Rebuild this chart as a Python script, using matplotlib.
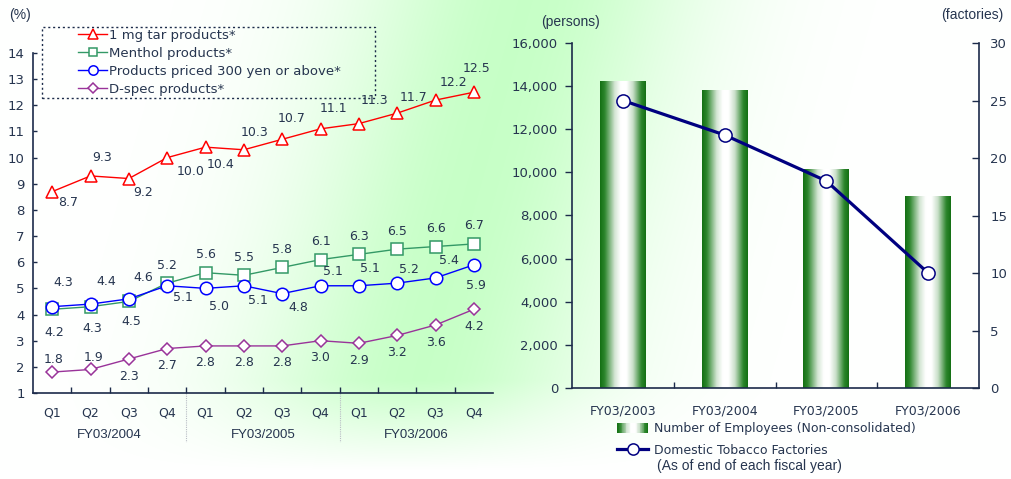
import matplotlib
matplotlib.use("Agg")
import matplotlib.pyplot as plt
import numpy as np
from matplotlib.colors import LinearSegmentedColormap
from matplotlib.legend_handler import HandlerBase
from matplotlib.patches import Rectangle
from matplotlib.ticker import StrMethodFormatter

# quarterly share of each product segment (%)
quarters = ["Q1", "Q2", "Q3", "Q4"] * 3
fiscal_years = ["FY03/2004", "FY03/2005", "FY03/2006"]
tar_1mg = [8.7, 9.3, 9.2, 10.0, 10.4, 10.3, 10.7, 11.1, 11.3, 11.7, 12.2, 12.5]
menthol = [4.2, 4.3, 4.5, 5.2, 5.6, 5.5, 5.8, 6.1, 6.3, 6.5, 6.6, 6.7]
price_300 = [4.3, 4.4, 4.6, 5.1, 5.0, 5.1, 4.8, 5.1, 5.1, 5.2, 5.4, 5.9]
d_spec = [1.8, 1.9, 2.3, 2.7, 2.8, 2.8, 2.8, 3.0, 2.9, 3.2, 3.6, 4.2]
series_names = ["1 mg tar products*", "Menthol products*",
                "Products priced 300 yen or above*", "D-spec products*"]

# employees and factories by fiscal year
years = ["FY03/2003", "FY03/2004", "FY03/2005", "FY03/2006"]
employees = [14200, 13800, 10150, 8900]
factories = [25, 22, 18, 10]

# label offsets in pixels (right, up) for each value label
tar_offsets = [(16, -11), (12, 18), (14, -14), (23, -14), (15, -17), (11, 17),
               (9, 21), (13, 20), (16, 23), (16, 16), (18, 18), (3, 24)]
menthol_offsets = [(2, -23), (2, -22), (2, -20)] + [(0, 18)] * 9
price_offsets = [(11, 24), (16, 23), (14, 21), (16, -12), (13, -18), (14, -15),
                 (16, -14), (12, 14), (11, 17), (12, 14), (13, 17), (2, -21)]
dspec_offsets = [(1, 13), (3, 12)] + [(0, -17)] * 10

TEXT = "#26354f"
AXIS = "#1c2b4a"
W, H = 1011, 479

fig = plt.figure(figsize=(W / 100, H / 100), dpi=100)

# soft green glow behind both panels
bg = fig.add_axes([0, 0, 1, 1], zorder=-10)
yy, xx = np.mgrid[0:H, 0:W].astype(float)
centre = 525 - 0.28 * yy
glow = np.exp(-((xx - centre) / 175) ** 2) * np.clip((470 - yy) / 90, 0, 1)
green = np.array([0.78, 1.0, 0.78])
bg.imshow(1 - glow[..., None] * (1 - green), extent=[0, 1, 0, 1], aspect="auto",
          origin="upper")
bg.axis("off")

# ---------------- left: product share line chart ----------------
axl = fig.add_axes([33 / W, 1 - 393 / H, 460 / W, 340 / H])
axl.patch.set_alpha(0)
x = np.arange(len(quarters))
line_specs = [
    (tar_1mg, series_names[0], "#ff0000", "^", 9, tar_offsets),
    (menthol, series_names[1], "#339966", "s", 8, menthol_offsets),
    (price_300, series_names[2], "#0000ff", "o", 9, price_offsets),
    (d_spec, series_names[3], "#993399", "D", 6.5, dspec_offsets),
]
handles = []
for vals, name, color, marker, ms, offs in line_specs:
    (ln,) = axl.plot(x, vals, color=color, lw=1.0, marker=marker, ms=ms,
                     mfc="white", mec=color, mew=1.1, label=name, clip_on=False,
                     zorder=3)
    handles.append(ln)
    for xi, v, (dx, dy) in zip(x, vals, offs):
        axl.annotate(f"{v:.1f}", (xi, v), xytext=(dx, dy), textcoords="offset pixels",
                     ha="center", va="center", fontsize=9, color=TEXT)

axl.set_xlim(-0.5, len(quarters) - 0.5)
axl.set_ylim(1, 14)
axl.set_yticks(range(1, 15))
axl.set_xticks(x, quarters)
axl.set_xticks(np.arange(0.5, len(quarters) - 1), minor=True)
axl.tick_params(axis="x", which="major", length=0, pad=10, labelsize=9, labelcolor=TEXT)
axl.tick_params(axis="x", which="minor", direction="in", length=4, width=1, color=AXIS)
axl.tick_params(axis="y", direction="in", length=3, width=1, color=AXIS,
                labelsize=9.5, labelcolor=TEXT, pad=6)
for side in ("top", "right"):
    axl.spines[side].set_visible(False)
for side in ("left", "bottom"):
    axl.spines[side].set_color(AXIS)
    axl.spines[side].set_linewidth(1.2)

for k, fy in enumerate(fiscal_years):
    axl.text(4 * k + 1.5, -0.125, fy, transform=axl.get_xaxis_transform(),
             ha="center", va="center", fontsize=9.5, color=TEXT,
             family="Liberation Sans")
for boundary in (3.5, 7.5):
    axl.plot([boundary, boundary], [0, -0.145], transform=axl.get_xaxis_transform(),
             color="#b8bcc4", lw=0.8, ls=(0, (1, 1)), clip_on=False)

fig.text(20 / W, 1 - 15 / H, "(%)", ha="center", va="center", fontsize=10,
         color=TEXT, family="Liberation Sans")

fig.patches.append(Rectangle((42 / W, 1 - 98 / H), 333 / W, 71 / H,
                             transform=fig.transFigure, fill=False,
                             edgecolor=AXIS, lw=1, ls=(0, (1.5, 2))))
fig.legend(handles=handles, loc="upper left", bbox_to_anchor=(78 / W, 1 - 29 / H),
           frameon=False, fontsize=9.5, handlelength=2.2, handletextpad=0.15,
           labelspacing=0.38, borderpad=0, borderaxespad=0, labelcolor=TEXT,
           markerscale=0.75)

# ---------------- right: employees and factories ----------------
bar_cmap = LinearSegmentedColormap.from_list(
    "bar_shade",
    [(0.0, "#137013"), (0.1, "#2d862d"), (0.32, "#d4e6d4"), (0.45, "#ffffff"),
     (0.58, "#ffffff"), (0.72, "#c9dfc9"), (0.9, "#2d862d"), (1.0, "#137013")])

axr = fig.add_axes([572 / W, 1 - 388 / H, 407 / W, 345 / H])
axr.patch.set_alpha(0)
xr = np.arange(len(years))
bars = axr.bar(xr, employees, width=0.45, color="none", edgecolor="none")
shade = bar_cmap(np.linspace(0, 1, 128))[None, :, :]
for b in bars:
    axr.imshow(shade, extent=[b.get_x(), b.get_x() + b.get_width(), 0, b.get_height()],
               aspect="auto", interpolation="bilinear", zorder=2)
axr.set_xlim(-0.5, len(years) - 0.5)
axr.set_ylim(0, 16000)
axr.set_yticks(range(0, 16001, 2000))
axr.yaxis.set_major_formatter(StrMethodFormatter("{x:,.0f}"))
axr.set_xticks(xr, years)
axr.set_xticks(np.arange(0.5, len(years) - 1), minor=True)
axr.tick_params(axis="x", which="major", length=0, pad=12, labelsize=9, labelcolor=TEXT)
axr.tick_params(axis="x", which="minor", direction="in", length=4, width=1, color=AXIS)
axr.tick_params(axis="y", direction="out", length=5, width=1, color=AXIS,
                labelsize=9.5, labelcolor=TEXT, pad=5)
for side in ("top", "right"):
    axr.spines[side].set_visible(False)
for side in ("left", "bottom"):
    axr.spines[side].set_color(AXIS)
    axr.spines[side].set_linewidth(1.2)

axf = axr.twinx()
axf.patch.set_alpha(0)
(fac_line,) = axf.plot(xr, factories, color="#000080", lw=2.3, marker="o", ms=9.5,
                       mfc="white", mec="#000080", mew=1.1, zorder=4)
axf.set_ylim(0, 30)
axf.set_yticks(range(0, 31, 5))
axf.tick_params(axis="y", direction="in", length=5, width=1, color=AXIS,
                labelsize=9.5, labelcolor=TEXT, pad=8)
for side in ("top", "left", "bottom"):
    axf.spines[side].set_visible(False)
axf.spines["right"].set_color(AXIS)
axf.spines["right"].set_linewidth(1.2)

fig.text(571 / W, 1 - 22 / H, "(persons)", ha="center", va="center", fontsize=10,
         color=TEXT, family="Liberation Sans")
fig.text(972 / W, 1 - 15 / H, "(factories)", ha="center", va="center", fontsize=10,
         color=TEXT, family="Liberation Sans")


class ShadedPatchHandler(HandlerBase):
    def create_artists(self, legend, orig_handle, xdescent, ydescent, width, height,
                       fontsize, trans):
        n = 40
        strips = []
        for k in range(n):
            strips.append(Rectangle((-xdescent + width * k / n, -ydescent),
                                    width / n * 1.05, height,
                                    facecolor=bar_cmap((k + 0.5) / n),
                                    edgecolor="none", transform=trans))
        return strips


emp_proxy = Rectangle((0, 0), 1, 1)
fig.legend(handles=[emp_proxy, fac_line],
           labels=["Number of Employees (Non-consolidated)", "Domestic Tobacco Factories"],
           handler_map={emp_proxy: ShadedPatchHandler()},
           loc="upper left", bbox_to_anchor=(617 / W, 1 - 422 / H), frameon=False,
           fontsize=9, handlelength=2.5, handleheight=0.85, handletextpad=0.45,
           labelspacing=0.7, borderpad=0, borderaxespad=0, labelcolor=TEXT,
           markerscale=0.85)
fig.text(657 / W, 1 - 466 / H, "(As of end of each fiscal year)", ha="left",
         va="center", fontsize=10, color=TEXT, family="Liberation Sans")

fig.savefig("out.png", dpi=100)
